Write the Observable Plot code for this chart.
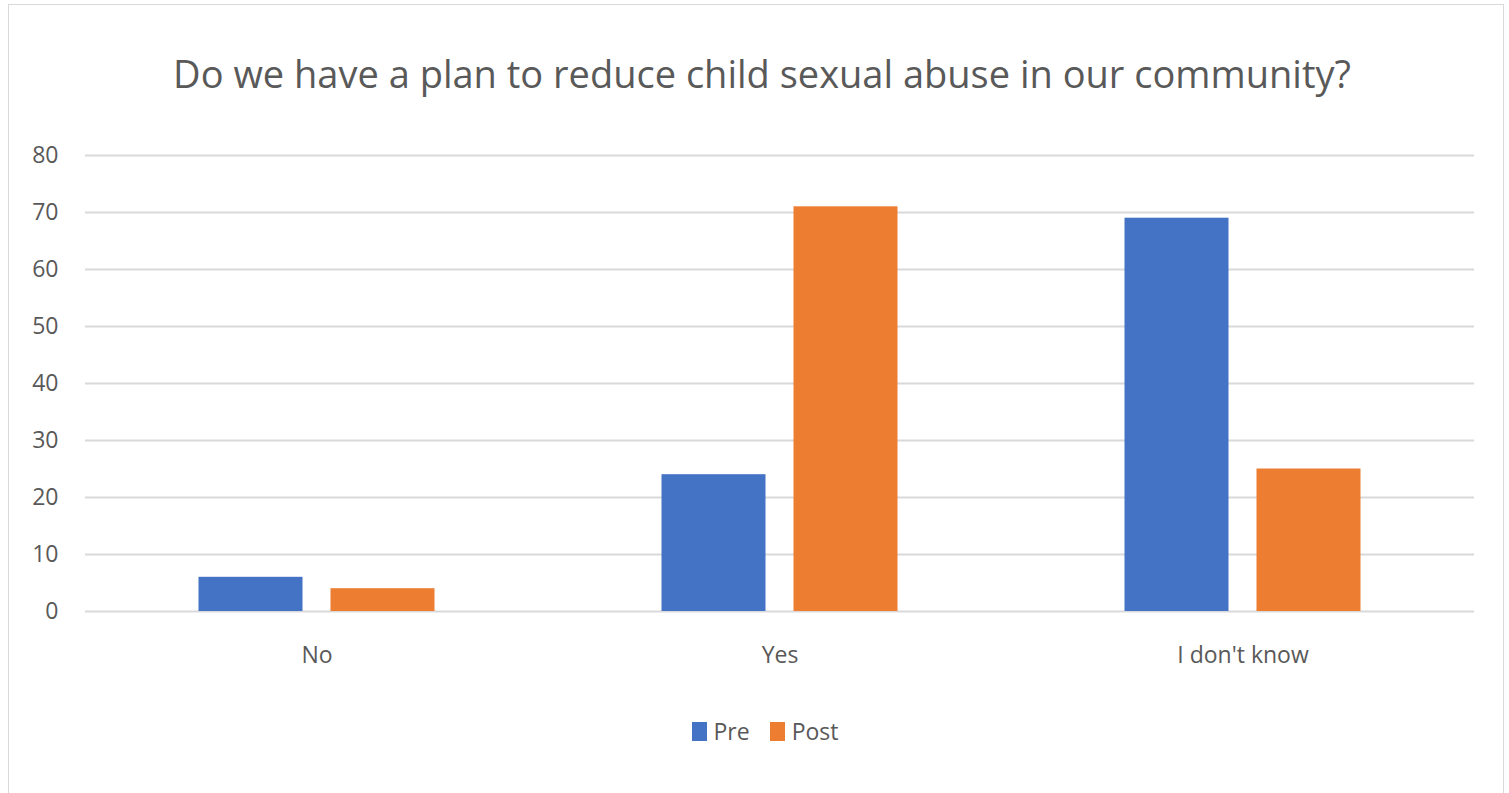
<!DOCTYPE html>
<html><head><meta charset="utf-8">
<script src="https://cdn.jsdelivr.net/npm/d3@7"></script>
<script src="https://cdn.jsdelivr.net/npm/@observablehq/plot@0.6"></script>
<style>
body{margin:0;background:#fff;font-family:"Open Sans",sans-serif;}
#wrap{position:relative;width:1509px;height:793px;overflow:hidden;background:#fff;}
#frame{position:absolute;left:8px;top:4px;width:1496px;height:800px;border:1.5px solid #d9d9d9;box-sizing:border-box;}
#title{position:absolute;left:0;width:1524px;top:54px;text-align:center;font-size:38px;color:#595959;line-height:1;white-space:nowrap;}
#chart{position:absolute;left:0;top:0;}
#legend{position:absolute;top:720px;left:0;width:1530px;display:flex;justify-content:center;gap:20px;font-size:23px;color:#595959;line-height:1;}
.item{display:flex;align-items:center;gap:7px;}
.sw{width:15px;height:19px;display:inline-block;}
</style></head>
<body>
<div id="wrap">
<div id="frame"></div>
<div id="title">Do we have a plan to reduce child sexual abuse in our community?</div>
<div id="chart"></div>
<div id="legend"></div>
</div>
<script>
const categories = ["No", "Yes", "I don't know"];
const series = ["Pre", "Post"];
const preValues = [6, 24, 69];
const postValues = [4, 71, 25];
const yTicks = [0, 10, 20, 30, 40, 50, 60, 70, 80];
const colors = ["#4472C4", "#ED7D31"];

const pre = categories.map((c, i) => ({category: c, series: "Pre", value: preValues[i]}));
const post = categories.map((c, i) => ({category: c, series: "Post", value: postValues[i]}));

const plot = Plot.plot({
  width: 1509,
  height: 680,
  marginTop: 155,
  marginBottom: 69,
  marginLeft: 85,
  marginRight: 35,
  style: {fontFamily: "'Open Sans', sans-serif", color: "#595959", background: "transparent", overflow: "visible"},
  x: {type: "band", domain: categories, padding: 0, label: null},
  y: {domain: [0, 80], label: null},
  color: {domain: series, range: colors},
  marks: [
    Plot.ruleY(yTicks, {stroke: "#d9d9d9", strokeWidth: 2}),
    Plot.barY(pre, {x: "category", y: "value", fill: d => d.series, insetLeft: 113.5, insetRight: 245.5}),
    Plot.barY(post, {x: "category", y: "value", fill: d => d.series, insetLeft: 245.5, insetRight: 113.5}),
    Plot.axisY({ticks: yTicks, tickSize: 0, tickPadding: 27, fontSize: 23, fill: "#595959", label: null}),
    Plot.axisX({tickSize: 0, tickPadding: 35, fontSize: 23, fill: "#595959", label: null})
  ]
});
document.getElementById("chart").appendChild(plot);

const legend = document.getElementById("legend");
series.forEach((s, i) => {
  const item = document.createElement("div");
  item.className = "item";
  const sw = document.createElement("span");
  sw.className = "sw";
  sw.style.background = colors[i];
  const t = document.createElement("span");
  t.textContent = s;
  item.appendChild(sw);
  item.appendChild(t);
  legend.appendChild(item);
});
</script>
</body></html>
